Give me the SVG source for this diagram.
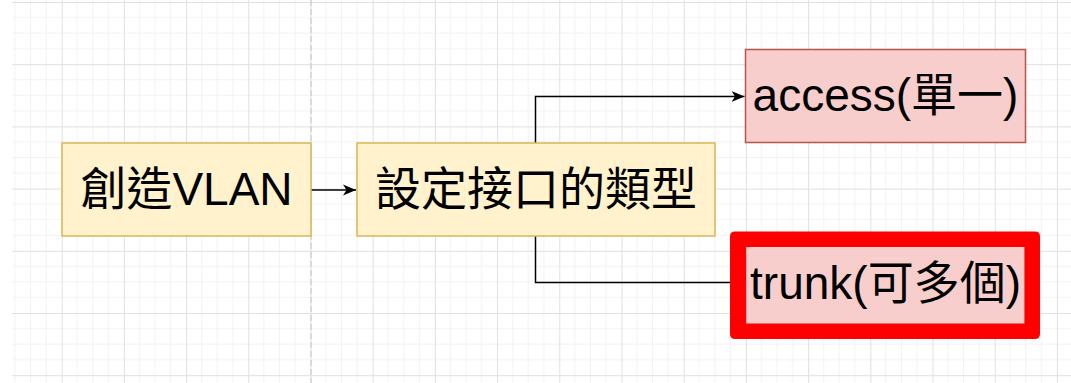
<svg xmlns="http://www.w3.org/2000/svg" width="1071" height="383" viewBox="0 0 1071 383">
  <defs>
    <pattern id="grid" patternUnits="userSpaceOnUse" x="-0.5" y="2" width="62.2" height="62.2">
      <g stroke="#f2f2f2" stroke-width="1">
        <line x1="15.55" y1="0" x2="15.55" y2="62.2"/>
        <line x1="31.1" y1="0" x2="31.1" y2="62.2"/>
        <line x1="46.65" y1="0" x2="46.65" y2="62.2"/>
        <line x1="0" y1="15.55" x2="62.2" y2="15.55"/>
        <line x1="0" y1="31.1" x2="62.2" y2="31.1"/>
        <line x1="0" y1="46.65" x2="62.2" y2="46.65"/>
      </g>
      <g stroke="#e0e0e0" stroke-width="1">
        <line x1="0.5" y1="0" x2="0.5" y2="62.2"/>
        <line x1="0" y1="0.5" x2="62.2" y2="0.5"/>
      </g>
    </pattern>
    <marker id="arrow" markerUnits="userSpaceOnUse" viewBox="0 0 14 12" refX="13" refY="6" markerWidth="14" markerHeight="12" orient="auto">
      <path d="M0,0.5 L13,6 L0,11.5 L3.5,6 Z" fill="#000"/>
    </marker>
    <style>
      .yellow { fill: #fff2cc; stroke: #d6b656; stroke-width: 1.5; }
      .pink { fill: #f8cecc; stroke: #b85450; stroke-width: 1.5; }
      .label { font-family: "Liberation Sans", "Noto Sans CJK TC", sans-serif; font-size: 46px; fill: #000; text-anchor: middle; }
      .conn { fill: none; stroke: #000; stroke-width: 1.5; }
    </style>
  </defs>

  <rect x="0" y="0" width="1071" height="383" fill="#ffffff"/>
  <rect x="12" y="0" width="1059" height="383" fill="url(#grid)"/>
  <line x1="311" y1="0" x2="311" y2="383" stroke="#c4c4c4" stroke-width="1" stroke-dasharray="6 3"/>

  <g id="connectors">
    <path class="conn" d="M311,190 H356" marker-end="url(#arrow)"/>
    <path class="conn" d="M535.5,143 V96.5 H744.5" marker-end="url(#arrow)"/>
    <path class="conn" d="M535.5,236 V282.5 H735"/>
  </g>

  <g id="node-create-vlan">
    <rect class="yellow" x="62" y="143" width="249" height="93"/>
    <text class="label" x="186.5" y="205">創造VLAN</text>
  </g>

  <g id="node-set-type">
    <rect class="yellow" x="357" y="143" width="358" height="93"/>
    <text class="label" x="536" y="205">設定接口的類型</text>
  </g>

  <g id="node-access">
    <rect class="pink" x="745.5" y="49.5" width="280" height="93"/>
    <text class="label" x="885.5" y="111">access(單一)</text>
  </g>

  <g id="node-trunk">
    <rect class="pink" x="745.5" y="238" width="280" height="93"/>
    <text class="label" x="885.5" y="299">trunk(可多個)</text>
    <path fill="#ff0000" fill-rule="evenodd" d="M735,231.5 H1035 Q1040,231.5 1040,236.5 V334 Q1040,339 1035,339 H735 Q730,339 730,334 V236.5 Q730,231.5 735,231.5 Z M746,247 V323.5 H1024.5 V247 Z"/>
  </g>
</svg>
